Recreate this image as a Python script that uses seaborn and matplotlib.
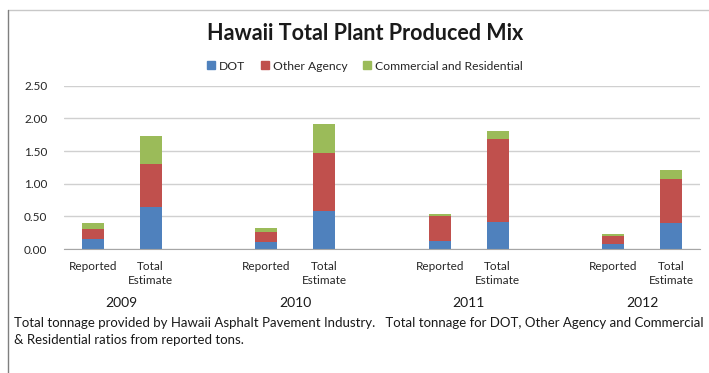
import pandas as pd
import matplotlib.pyplot as plt
import seaborn as sns
from matplotlib.lines import Line2D
from matplotlib.ticker import FormatStrFormatter

# data
years = ["2009", "2010", "2011", "2012"]
kinds = ["Reported", "Total Estimate"]
dot = [0.15, 0.65, 0.10, 0.58, 0.12, 0.42, 0.08, 0.40]
other_agency = [0.15, 0.65, 0.155, 0.885, 0.385, 1.26, 0.12, 0.67]
commercial = [0.10, 0.435, 0.065, 0.445, 0.035, 0.12, 0.025, 0.14]

series_names = ["DOT", "Other Agency", "Commercial and Residential"]
colors = ["#4F81BD", "#C0504D", "#9BBB59"]
tick_labels = {"Reported": "Reported", "Total Estimate": "Total\nEstimate"}

footnote = ("Total tonnage provided by Hawaii Asphalt Pavement Industry.   "
            "Total tonnage for DOT, Other Agency and Commercial\n"
            "& Residential ratios from reported tons.")

# build the table, one row per bar
rows = []
i = 0
for y in years:
    for k in kinds:
        rows.append({"slot": f"{y} {k}", "year": y, "kind": k,
                     "DOT": dot[i], "Other Agency": other_agency[i],
                     "Commercial and Residential": commercial[i]})
        i += 1
df = pd.DataFrame(rows)
df["lvl1"] = df["DOT"]
df["lvl2"] = df["lvl1"] + df["Other Agency"]
df["lvl3"] = df["lvl2"] + df["Commercial and Residential"]

# category order with empty gap slots between the years
order = []
for j, y in enumerate(years):
    order += [f"{y} Reported", f"{y} Total Estimate"]
    if j < len(years) - 1:
        order.append(f"gap{j}")

sns.set_style("white")
plt.rcParams["font.family"] = ["Lato", "DejaVu Sans"]

fig = plt.figure(figsize=(7.09, 3.73), dpi=100)
ax = fig.add_axes([64 / 709, 124 / 373, 636 / 709, 163.3 / 373])

# stacked bars: draw cumulative totals from the top down
for col, c in zip(["lvl3", "lvl2", "lvl1"], colors[::-1]):
    sns.barplot(data=df, x="slot", y=col, order=order, color=c, width=0.38,
                saturation=1, ax=ax, edgecolor="none")

ax.set_xlim(-0.5, len(order) - 0.5)
ax.set_ylim(0, 2.5)
ax.set_yticks([0, 0.5, 1.0, 1.5, 2.0, 2.5])
ax.yaxis.set_major_formatter(FormatStrFormatter("%.2f"))
ax.yaxis.grid(True, color="#D0D0D0", linewidth=1)
ax.set_axisbelow(True)
for s in ["left", "right", "top"]:
    ax.spines[s].set_visible(False)
ax.spines["bottom"].set_color("#A6A6A6")
ax.set_xlabel("")
ax.set_ylabel("")
ax.tick_params(axis="y", length=0, pad=12, labelsize=8.5, labelcolor="#262626")

# category labels at bar centers, small ticks at the slot edges
centers = [order.index(s) for s in df["slot"]]
ax.set_xticks(centers)
ax.set_xticklabels([tick_labels[k] for k in df["kind"]], fontsize=8.5, color="#262626",
                   linespacing=1.25)
ax.tick_params(axis="x", which="major", length=0, pad=9)
ax.set_xticks([p - 0.5 for p in range(len(order) + 1)], minor=True)
ax.tick_params(axis="x", which="minor", length=4, color="#A6A6A6", direction="out")

# year labels under each pair
for y in years:
    xc = (order.index(f"{y} Reported") + order.index(f"{y} Total Estimate")) / 2
    ax.text(xc, -0.33, y, transform=ax.get_xaxis_transform(),
            ha="center", va="center", fontsize=10, color="#1a1a1a")

fig.text(365 / 709, 1 - 33 / 373, "Hawaii Total Plant Produced Mix",
         ha="center", va="center", fontsize=15.5, fontweight="bold", color="#1a1a1a")

handles = [plt.Rectangle((0, 0), 1, 1, color=c) for c in colors]
fig.legend(handles, series_names, loc="center", bbox_to_anchor=(365 / 709, 1 - 66 / 373),
           ncol=3, frameon=False, fontsize=8.7, handlelength=0.65, handleheight=0.65,
           handletextpad=0.35, columnspacing=1.3)

fig.text(14 / 709, 1 - 317 / 373, footnote, ha="left", va="top",
         fontsize=9.5, color="#1a1a1a", linespacing=1.55)

# outer frame of the chart box
fig.add_artist(Line2D([8 / 709, 1], [1 - 10 / 373, 1 - 10 / 373], color="#C8C8C8", lw=1))
fig.add_artist(Line2D([8 / 709, 8 / 709], [0, 1 - 10 / 373], color="#7F7F7F", lw=1))

fig.savefig("out.png", dpi=100)
